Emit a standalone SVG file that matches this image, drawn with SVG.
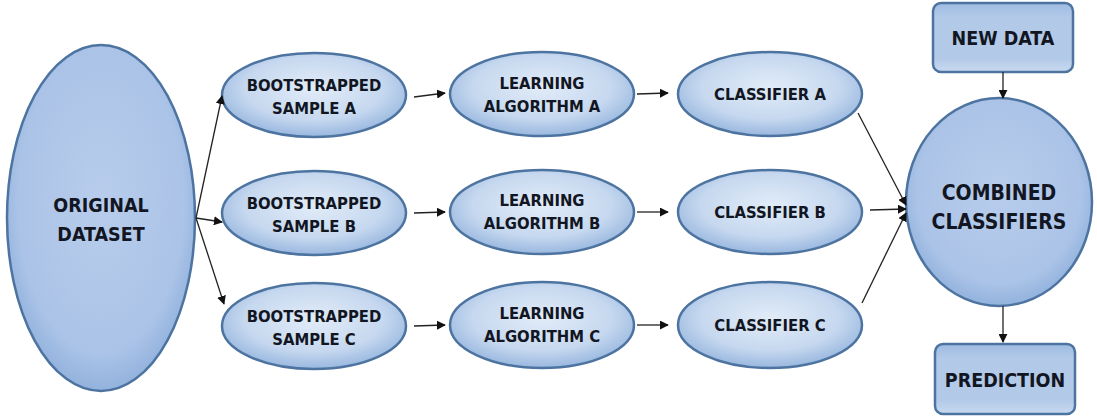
<svg xmlns="http://www.w3.org/2000/svg" width="1097" height="418" viewBox="0 0 1097 418">
<defs>
<radialGradient id="gSmall" cx="50%" cy="42%" r="58%">
<stop offset="0" stop-color="#e2ecf8"/>
<stop offset="0.65" stop-color="#c6d8ef"/>
<stop offset="1" stop-color="#98b7df"/>
</radialGradient>
<radialGradient id="gBig" cx="50%" cy="45%" r="55%">
<stop offset="0" stop-color="#b8cdec"/>
<stop offset="0.8" stop-color="#abc3e7"/>
<stop offset="1" stop-color="#92b2dd"/>
</radialGradient>
<linearGradient id="gRect" x1="0" y1="0" x2="0" y2="1">
<stop offset="0" stop-color="#9dbbe2"/>
<stop offset="0.2" stop-color="#b2c9e8"/>
<stop offset="0.8" stop-color="#b2c9e8"/>
<stop offset="1" stop-color="#c9daf0"/>
</linearGradient>
<marker id="ah" viewBox="0 0 10 10" refX="9" refY="5" markerWidth="9" markerHeight="9" markerUnits="userSpaceOnUse" orient="auto">
<path d="M0,0 L10,5 L0,10 z" fill="#111"/>
</marker>
</defs>
<style>
.node{stroke:#4d74a0;stroke-width:2.5}
.sm{fill:url(#gSmall)}
.bg{fill:url(#gBig)}
.rc{fill:url(#gRect)}
text{font-family:"DejaVu Sans Condensed","DejaVu Sans",sans-serif;font-weight:bold;fill:#121622;text-anchor:middle}
.t17{font-size:16.5px}
.t20{font-size:19.5px}
.t22{font-size:21px}
.con line{stroke:#222;stroke-width:1.3;marker-end:url(#ah)}
</style>
<rect width="1097" height="418" fill="#ffffff"/>

<g id="original">
<ellipse class="node bg" cx="101" cy="218" rx="94" ry="173"/>
<text class="t20" x="101" y="212">ORIGINAL</text>
<text class="t20" x="101" y="241">DATASET</text>
</g>

<g id="bootA">
<ellipse class="node sm" cx="314" cy="95" rx="92" ry="42"/>
<text class="t17" x="314" y="91">BOOTSTRAPPED</text>
<text class="t17" x="314" y="114">SAMPLE A</text>
</g>
<g id="bootB">
<ellipse class="node sm" cx="314" cy="213" rx="92" ry="42"/>
<text class="t17" x="314" y="209">BOOTSTRAPPED</text>
<text class="t17" x="314" y="232">SAMPLE B</text>
</g>
<g id="bootC">
<ellipse class="node sm" cx="314" cy="326" rx="92" ry="43"/>
<text class="t17" x="314" y="322">BOOTSTRAPPED</text>
<text class="t17" x="314" y="345">SAMPLE C</text>
</g>

<g id="learnA">
<ellipse class="node sm" cx="542" cy="94" rx="92" ry="42"/>
<text class="t17" x="542" y="89">LEARNING</text>
<text class="t17" x="542" y="112">ALGORITHM A</text>
</g>
<g id="learnB">
<ellipse class="node sm" cx="542" cy="212" rx="92" ry="42"/>
<text class="t17" x="542" y="206">LEARNING</text>
<text class="t17" x="542" y="229">ALGORITHM B</text>
</g>
<g id="learnC">
<ellipse class="node sm" cx="542" cy="325" rx="92" ry="43"/>
<text class="t17" x="542" y="319">LEARNING</text>
<text class="t17" x="542" y="342">ALGORITHM C</text>
</g>

<g id="clfA">
<ellipse class="node sm" cx="770" cy="94" rx="92" ry="42"/>
<text class="t17" x="770" y="100">CLASSIFIER A</text>
</g>
<g id="clfB">
<ellipse class="node sm" cx="770" cy="212" rx="92" ry="42"/>
<text class="t17" x="770" y="218">CLASSIFIER B</text>
</g>
<g id="clfC">
<ellipse class="node sm" cx="770" cy="325" rx="92" ry="43"/>
<text class="t17" x="770" y="331">CLASSIFIER C</text>
</g>

<g id="combined">
<ellipse class="node bg" cx="999" cy="202" rx="93" ry="104"/>
<text class="t22" x="999" y="200">COMBINED</text>
<text class="t22" x="999" y="229">CLASSIFIERS</text>
</g>

<g id="newdata">
<rect class="node rc" x="933" y="3" width="140" height="69" rx="8"/>
<text class="t20" x="1003" y="45">NEW DATA</text>
</g>
<g id="prediction">
<rect class="node rc" x="935" y="344" width="140" height="70" rx="8"/>
<text class="t20" x="1005" y="387">PREDICTION</text>
</g>

<g id="connectors" class="con">
<line x1="196" y1="218" x2="222" y2="96"/>
<line x1="196" y1="218" x2="222" y2="222"/>
<line x1="196" y1="218" x2="224" y2="304"/>
<line x1="414" y1="97" x2="445" y2="93"/>
<line x1="414" y1="213" x2="445" y2="212"/>
<line x1="414" y1="326" x2="445" y2="325"/>
<line x1="637" y1="94" x2="668" y2="93"/>
<line x1="637" y1="212" x2="668" y2="212"/>
<line x1="637" y1="325" x2="668" y2="325"/>
<line x1="858" y1="113" x2="906" y2="205"/>
<line x1="870" y1="210" x2="906" y2="209"/>
<line x1="862" y1="303" x2="906" y2="213"/>
<line x1="1003" y1="72" x2="1003" y2="98"/>
<line x1="1003" y1="306" x2="1003" y2="342"/>
</g>
</svg>
